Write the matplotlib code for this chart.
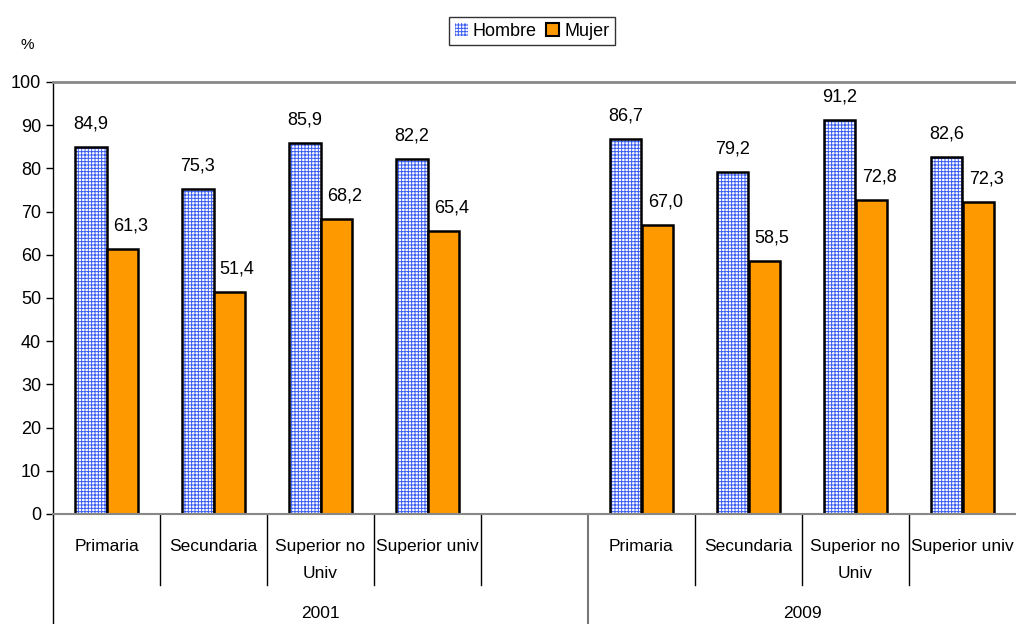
import matplotlib.pyplot as plt
import matplotlib.patches as mpatches
import numpy as np

plt.rcParams['font.family'] = ['Liberation Sans Narrow', 'Liberation Sans', 'DejaVu Sans']
plt.rcParams['hatch.linewidth'] = 0.7

categories = ['Primaria', 'Secundaria', 'Superior no\nUniv', 'Superior univ', '',
              'Primaria', 'Secundaria', 'Superior no\nUniv', 'Superior univ']
years = ['2001', '2009']
hombre = [84.9, 75.3, 85.9, 82.2, None, 86.7, 79.2, 91.2, 82.6]
mujer = [61.3, 51.4, 68.2, 65.4, None, 67.0, 58.5, 72.8, 72.3]

blue = '#3a5cf0'
orange = '#ff9900'

fig = plt.figure(figsize=(10.16, 6.24), dpi=100)
ax = fig.add_axes([53 / 1016, 110 / 624, 1 - 53 / 1016, 432 / 624])

w = 0.294
x = np.arange(len(categories))
idx = [i for i in x if hombre[i] is not None]
h = [hombre[i] for i in idx]
m = [mujer[i] for i in idx]
xi = np.array(idx)

# hatched blue bars, then black outline on top
ax.bar(xi - w / 2, h, w, color='white', edgecolor=blue, hatch='+++++', linewidth=0)
ax.bar(xi - w / 2, h, w, fill=False, edgecolor='black', linewidth=1.8)
ax.bar(xi + w / 2, m, w, color=orange, edgecolor='black', linewidth=1.8)

for i, v in zip(xi, h):
    ax.annotate(f'{v:.1f}'.replace('.', ','), (i - w / 2, v), xytext=(0, 23),
                textcoords='offset pixels', ha='center', va='center', fontsize=13)
for i, v in zip(xi, m):
    ax.annotate(f'{v:.1f}'.replace('.', ','), (i + w / 2, v), xytext=(8, 23),
                textcoords='offset pixels', ha='center', va='center', fontsize=13)

ax.set_xlim(-0.5, len(categories) - 0.5)
ax.set_ylim(0, 100)
ax.set_yticks(range(0, 101, 10))
ax.tick_params(axis='y', labelsize=13, length=5, width=1, direction='out')
ax.set_xticks([])
ax.spines['right'].set_visible(False)
ax.spines['top'].set_color('#888888')
ax.spines['top'].set_linewidth(2)
ax.spines['bottom'].set_color('#888888')
ax.spines['bottom'].set_linewidth(1.5)
ax.spines['left'].set_linewidth(1)

# category labels and dividers below the axis
tr = ax.get_xaxis_transform()
for i, c in enumerate(categories):
    ax.text(i, -0.059, c, transform=tr, ha='center', va='top', fontsize=12.5,
            linespacing=1.95)
for b in range(1, len(categories)):
    if b == 5:
        continue
    ax.plot([b - 0.5, b - 0.5], [0, -0.165], transform=tr, color='black',
            lw=1, clip_on=False)
ax.plot([4.5, 4.5], [0, -0.26], transform=tr, color='#777777', lw=1.5, clip_on=False)
ax.plot([-0.5, -0.5], [0, -0.26], transform=tr, color='black', lw=1, clip_on=False)
ax.text(2, -0.23, years[0], transform=tr, ha='center', va='center', fontsize=12.5)
ax.text(6.5, -0.23, years[1], transform=tr, ha='center', va='center', fontsize=12.5)

fig.text(27 / 1016, 1 - 45 / 624, '%', ha='center', va='center', fontsize=11)

hb = mpatches.Patch(facecolor='white', edgecolor=blue, hatch='+++++', linewidth=0)
mb = mpatches.Patch(facecolor=orange, edgecolor='black', linewidth=1.5)
leg = fig.legend([hb, mb], ['Hombre', 'Mujer'], loc='center',
                 bbox_to_anchor=(532 / 1016, 1 - 31 / 624), ncol=2, fontsize=13,
                 frameon=True, fancybox=False, handlelength=0.75, handleheight=0.75,
                 handletextpad=0.25, columnspacing=0.5, borderpad=0.3)
leg.get_frame().set_edgecolor('black')
leg.get_frame().set_linewidth(1)

fig.savefig('out.png', dpi=100)
